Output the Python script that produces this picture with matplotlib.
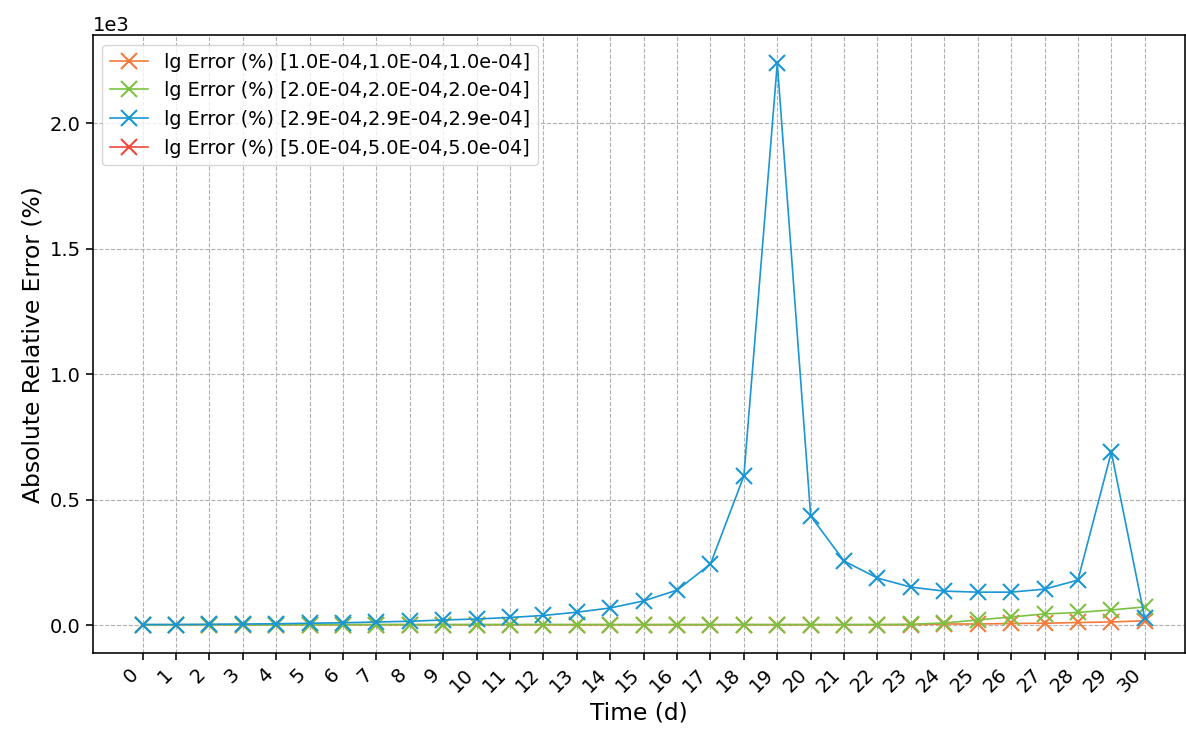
import numpy as np
import matplotlib.pyplot as plt

days = np.arange(0, 31)

err_1e4 = [1, 1, 1, 1, 1, 1, 1, 1, 1, 1, 1, 1, 1, 1, 1, 1, 1, 1, 1, 1, 1, 1, 1, 1,
           4, 4, 6, 7, 10, 12, 17]
err_2e4 = [1, 1, 1, 1, 1, 2, 2, 2, 2, 2, 2, 2, 2, 2, 2, 2, 2, 2, 2, 2, 2, 2, 2, 3,
           8, 20, 32, 44, 50, 60, 72]
err_29e4 = [2, 2, 3, 4, 5, 7, 9, 12, 15, 20, 24, 30, 38, 51, 68, 96, 139, 243, 594, 2239,
            434, 255, 187, 151, 135, 131, 131, 143, 179, 689, 28]
err_5e4 = [np.nan] * 31

labels = ["lg Error (%) [1.0E-04,1.0E-04,1.0e-04]",
          "lg Error (%) [2.0E-04,2.0E-04,2.0e-04]",
          "lg Error (%) [2.9E-04,2.9E-04,2.9e-04]",
          "lg Error (%) [5.0E-04,5.0E-04,5.0e-04]"]
colores = ["#f47b3b", "#7cc242", "#1a96d4", "#f2473b"]
series = [err_1e4, err_2e4, err_29e4, err_5e4]

plt.rcParams["axes.linewidth"] = 1.15
plt.rcParams["xtick.major.width"] = 1.15
plt.rcParams["ytick.major.width"] = 1.15
plt.rcParams["xtick.major.size"] = 5
plt.rcParams["ytick.major.size"] = 5

fig = plt.figure(figsize=(11.86, 7.33), dpi=100)
ax = fig.add_axes([0.078, 0.109, 0.921, 0.843])

for s, lab, c in zip(series, labels, colores):
    ax.plot(days, s, marker="x", markersize=11, markeredgewidth=1.5,
            linewidth=1.2, color=c, label=lab)

ax.set_xlim(-1.5, 31.2)
ax.set_ylim(-112, 2351)
ax.set_xticks(days)
ax.set_xticklabels([str(d) for d in days], rotation=45, ha="right", fontsize=14)
ax.tick_params(axis="y", labelsize=14)
ax.ticklabel_format(axis="y", style="sci", scilimits=(0, 0))
ax.yaxis.get_offset_text().set_fontsize(14)
ax.grid(True, linestyle="--", color="#b0b0b0", linewidth=0.8)
ax.set_xlabel("Time (d)", fontsize=16.8)
ax.set_ylabel("Absolute Relative Error (%)", fontsize=16.8)
ax.legend(loc="upper left", fontsize=13.9)

plt.savefig("out.png", dpi=100)
